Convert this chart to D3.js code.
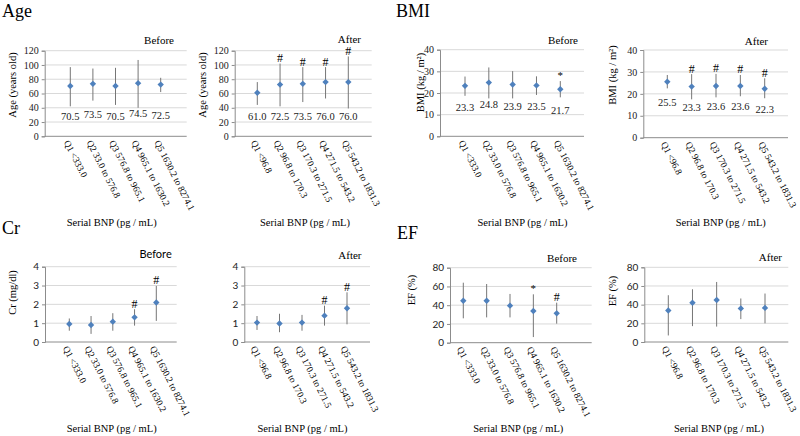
<!DOCTYPE html>
<html><head><meta charset="utf-8">
<script src="https://cdn.jsdelivr.net/npm/d3@7"></script>
<style>body{margin:0;background:#fff}svg{display:block}</style>
</head><body>
<svg id="c" width="800" height="436"></svg>
<script>
// ---------- data ----------
const catsBefore = ["Q1 <333.0", "Q2 33.0 to 576.8", "Q3 576.8 to 965.1", "Q4 965.1 to 1630.2", "Q5 1630.2 to 8274.1"];
const catsAfter  = ["Q1 <96.8", "Q2 96.8 to 170.3", "Q3 170.3 to 271.5", "Q4 271.5 to 543.2", "Q5 543.2 to 1831.3"];

const ageBeforeMean = [70.5, 73.5, 70.5, 74.5, 72.5];
const ageBeforeHigh = [97, 95, 96, 107, 82];
const ageBeforeLow  = [42, 50, 44, 40, 62];
const ageBeforeMark = ["", "", "", "", ""];

const ageAfterMean = [61.0, 72.5, 73.5, 76.0, 76.0];
const ageAfterHigh = [76, 102, 97, 97, 112];
const ageAfterLow  = [44, 42, 48, 53, 39];
const ageAfterMark = ["", "#", "#", "#", "#"];

const bmiBeforeMean = [23.3, 24.8, 23.9, 23.5, 21.7];
const bmiBeforeHigh = [27.6, 31.8, 30.1, 27.7, 25.5];
const bmiBeforeLow  = [18.7, 17.5, 17.5, 19.1, 18.0];
const bmiBeforeMark = ["", "", "", "", "*"];

const bmiAfterMean = [25.5, 23.3, 23.6, 23.6, 22.3];
const bmiAfterHigh = [28.6, 29.0, 29.1, 28.6, 27.1];
const bmiAfterLow  = [22.5, 17.5, 18.4, 18.9, 18.0];
const bmiAfterMark = ["", "#", "#", "#", "#"];

const crBeforeMean = [0.96, 0.90, 1.08, 1.31, 2.10];
const crBeforeHigh = [1.25, 1.38, 1.53, 1.74, 2.98];
const crBeforeLow  = [0.60, 0.43, 0.60, 0.87, 1.12];
const crBeforeMark = ["", "", "", "#", "#"];

const crAfterMean = [1.03, 0.98, 1.03, 1.40, 1.79];
const crAfterHigh = [1.38, 1.50, 1.44, 1.93, 2.64];
const crAfterLow  = [0.64, 0.52, 0.60, 0.87, 0.94];
const crAfterMark = ["", "", "", "#", "#"];

const efBeforeMean = [44.8, 44.8, 39.5, 33.8, 31.3];
const efBeforeHigh = [64.0, 62.6, 52.0, 51.6, 42.7];
const efBeforeLow  = [26.0, 27.0, 27.0, 6.0, 20.3];
const efBeforeMark = ["", "", "", "*", "#"];

const efAfterMean = [33.7, 42.0, 45.0, 36.0, 36.5];
const efAfterHigh = [50.1, 56.5, 64.3, 46.6, 51.9];
const efAfterLow  = [7.0, 17.0, 16.5, 24.5, 20.0];
const efAfterMark = ["", "", "", "", ""];

const ageTicks = [0, 20, 40, 60, 80, 100, 120];
const bmiTicks = [0, 10, 20, 30, 40];
const crTicks  = [0, 1, 2, 3, 4];
const efTicks  = [0, 20, 40, 60, 80];

const xTitle = "Serial BNP (pg / mL)";

// ---------- layout ----------
const SERIF = "'Liberation Serif','Times New Roman',serif";
const SANS = "Lato,'Liberation Sans',sans-serif";
const svg = d3.select("#c");

const panels = [
  {sub:"Before", cats:catsBefore, mean:ageBeforeMean, hi:ageBeforeHigh, lo:ageBeforeLow, mark:ageBeforeMark, ticks:ageTicks,
   left:44.7, right:186.7, top:50.7, bottom:136.3, p0:70.3, p1:160.7, subX:174, subY:44, subFont:SERIF, tickFont:SERIF,
   ylab:"Age (years old)", ylabX:12, ylabY:85, xtX:111.7, xtY:226, values:true, valOff:30.5},
  {sub:"After", cats:catsAfter, mean:ageAfterMean, hi:ageAfterHigh, lo:ageAfterLow, mark:ageAfterMark, ticks:ageTicks,
   left:234.7, right:371.7, top:50.7, bottom:136.3, p0:257.3, p1:348.3, subX:361, subY:43, subFont:SERIF, tickFont:SERIF,
   ylab:"Age (years old)", ylabX:202.5, ylabY:85, xtX:305, xtY:226, values:true, valFixed:116},
  {sub:"Before", cats:catsBefore, mean:bmiBeforeMean, hi:bmiBeforeHigh, lo:bmiBeforeLow, mark:bmiBeforeMark, ticks:bmiTicks,
   left:440, right:584, top:49.7, bottom:136.3, p0:465, p1:560.3, subX:578, subY:43.5, subFont:SERIF, tickFont:SERIF,
   ylab:"BMI (kg / m\u00B2)", ylabX:420, ylabY:82.5, xtX:522.5, xtY:226, values:true, valOff:21.5},
  {sub:"After", cats:catsAfter, mean:bmiAfterMean, hi:bmiAfterHigh, lo:bmiAfterLow, mark:bmiAfterMark, ticks:bmiTicks,
   left:643.3, right:788, top:50, bottom:137.7, p0:667.3, p1:764.7, subX:768, subY:45, subFont:SERIF, tickFont:SERIF,
   ylab:"BMI (kg / m\u00B2)", ylabX:612, ylabY:75, xtX:720.8, xtY:226, values:true, valOff:20.5},
  {sub:"Before", cats:catsBefore, mean:crBeforeMean, hi:crBeforeHigh, lo:crBeforeLow, mark:crBeforeMark, ticks:crTicks,
   left:45, right:176.7, top:266.7, bottom:342, p0:69.3, p1:156.3, subX:171.7, subY:258, subFont:SANS, tickFont:SANS,
   ylab:"Cr (mg/dl)", ylabX:12, ylabY:292.5, xtX:111.7, xtY:431.5, values:false},
  {sub:"After", cats:catsAfter, mean:crAfterMean, hi:crAfterHigh, lo:crAfterLow, mark:crAfterMark, ticks:crTicks,
   left:244.3, right:370, top:266.7, bottom:342, p0:257, p1:347, subX:361.5, subY:259, subFont:SERIF, tickFont:SANS,
   ylab:null, xtX:302.5, xtY:431.5, values:false},
  {sub:"Before", cats:catsBefore, mean:efBeforeMean, hi:efBeforeHigh, lo:efBeforeLow, mark:efBeforeMark, ticks:efTicks,
   left:450, right:591.7, top:267.7, bottom:342.7, p0:463.3, p1:556.7, subX:577, subY:262, subFont:SERIF, tickFont:SANS,
   ylab:"EF (%)", ylabX:411, ylabY:290, xtX:518.3, xtY:431.5, values:false},
  {sub:"After", cats:catsAfter, mean:efAfterMean, hi:efAfterHigh, lo:efAfterLow, mark:efAfterMark, ticks:efTicks,
   left:644.3, right:788.3, top:267.3, bottom:342, p0:668.3, p1:765, subX:782, subY:261, subFont:SERIF, tickFont:SANS,
   ylab:"EF (%)", ylabX:612, ylabY:291, xtX:719, xtY:431.5, values:false}
];

const bigTitles = [
  {t:"Age", x:2, y:17}, {t:"BMI", x:396, y:17}, {t:"Cr", x:2, y:234}, {t:"EF", x:397, y:239}
];

svg.selectAll("text.big").data(bigTitles).join("text")
  .attr("x", d => d.x).attr("y", d => d.y)
  .attr("font-family", SERIF).attr("font-size", 18).attr("fill", "#000")
  .text(d => d.t);

function diamond(r) { return `M0,${-r}L${r},0L0,${r}L${-r},0Z`; }

panels.forEach(p => {
  const g = svg.append("g");
  const yMax = p.ticks[p.ticks.length - 1];
  const y = d3.scaleLinear().domain([0, yMax]).range([p.bottom, p.top]);
  const x = d3.scalePoint().domain(p.cats).range([p.p0, p.p1]);
  const data = p.cats.map((c, i) => ({c, m: p.mean[i], hi: p.hi[i], lo: p.lo[i], mk: p.mark[i]}));

  // gridlines
  g.selectAll("line.grid").data(p.ticks).join("line")
    .attr("x1", p.left).attr("x2", p.right)
    .attr("y1", d => y(d)).attr("y2", d => y(d))
    .attr("stroke", d => d === 0 ? "#8c8c8c" : "#d9d9d9").attr("stroke-width", 1);

  // y axis
  const ax = g.append("g").attr("transform", `translate(${p.left},0)`)
    .call(d3.axisLeft(y).tickValues(p.ticks).tickFormat(d3.format("d")).tickSize(3).tickPadding(3));
  ax.select(".domain").attr("stroke", "#8c8c8c");
  ax.selectAll(".tick line").attr("stroke", "#8c8c8c");
  ax.selectAll(".tick text").attr("font-family", p.tickFont).attr("font-size", 10).attr("fill", "#222");

  // subtitle
  g.append("text").attr("x", p.subX).attr("y", p.subY).attr("text-anchor", "end")
    .attr("font-family", p.subFont).attr("font-size", 11).attr("fill", "#000").text(p.sub);

  // error bars
  g.selectAll("line.err").data(data).join("line")
    .attr("x1", d => x(d.c)).attr("x2", d => x(d.c))
    .attr("y1", d => y(d.hi)).attr("y2", d => y(d.lo))
    .attr("stroke", "#767676").attr("stroke-width", 1);

  // points
  g.selectAll("path.pt").data(data).join("path")
    .attr("d", diamond(3.2))
    .attr("transform", d => `translate(${x(d.c)},${y(d.m)})`)
    .attr("fill", "#4f81bd");

  // markers (# or *)
  g.selectAll("text.mk").data(data.filter(d => d.mk)).join("text")
    .attr("x", d => x(d.c)).attr("y", d => y(d.hi) - (d.mk === "*" ? 2 : 1.5))
    .attr("text-anchor", "middle").attr("font-family", SERIF)
    .attr("font-size", d => d.mk === "*" ? 11 : 12).attr("fill", "#000")
    .text(d => d.mk);

  // value labels
  if (p.values) {
    g.selectAll("text.val").data(data).join("text")
      .attr("x", d => x(d.c))
      .attr("y", d => (p.valFixed !== undefined ? p.valFixed : y(d.m) + p.valOff) + 3.5)
      .attr("text-anchor", "middle").attr("font-family", SERIF).attr("font-size", 10.5).attr("fill", "#222")
      .text(d => d3.format(".1f")(d.m));
  }

  // category labels (rotated)
  g.selectAll("text.cat").data(p.cats).join("text")
    .attr("transform", c => `translate(${x(c) - 6.5},${p.bottom + 6}) rotate(63)`)
    .attr("font-family", SERIF).attr("font-size", 9.4).attr("fill", "#000")
    .text(c => c);

  // y label
  if (p.ylab) {
    g.append("text").attr("transform", `translate(${p.ylabX + 3.5},${p.ylabY}) rotate(-90)`)
      .attr("text-anchor", "middle").attr("font-family", SERIF).attr("font-size", 10.5).attr("fill", "#000")
      .text(p.ylab);
  }

  // x title
  g.append("text").attr("x", p.xtX).attr("y", p.xtY).attr("text-anchor", "middle")
    .attr("font-family", SERIF).attr("font-size", 10.5).attr("fill", "#000").text(xTitle);
});
</script>
</body></html>
